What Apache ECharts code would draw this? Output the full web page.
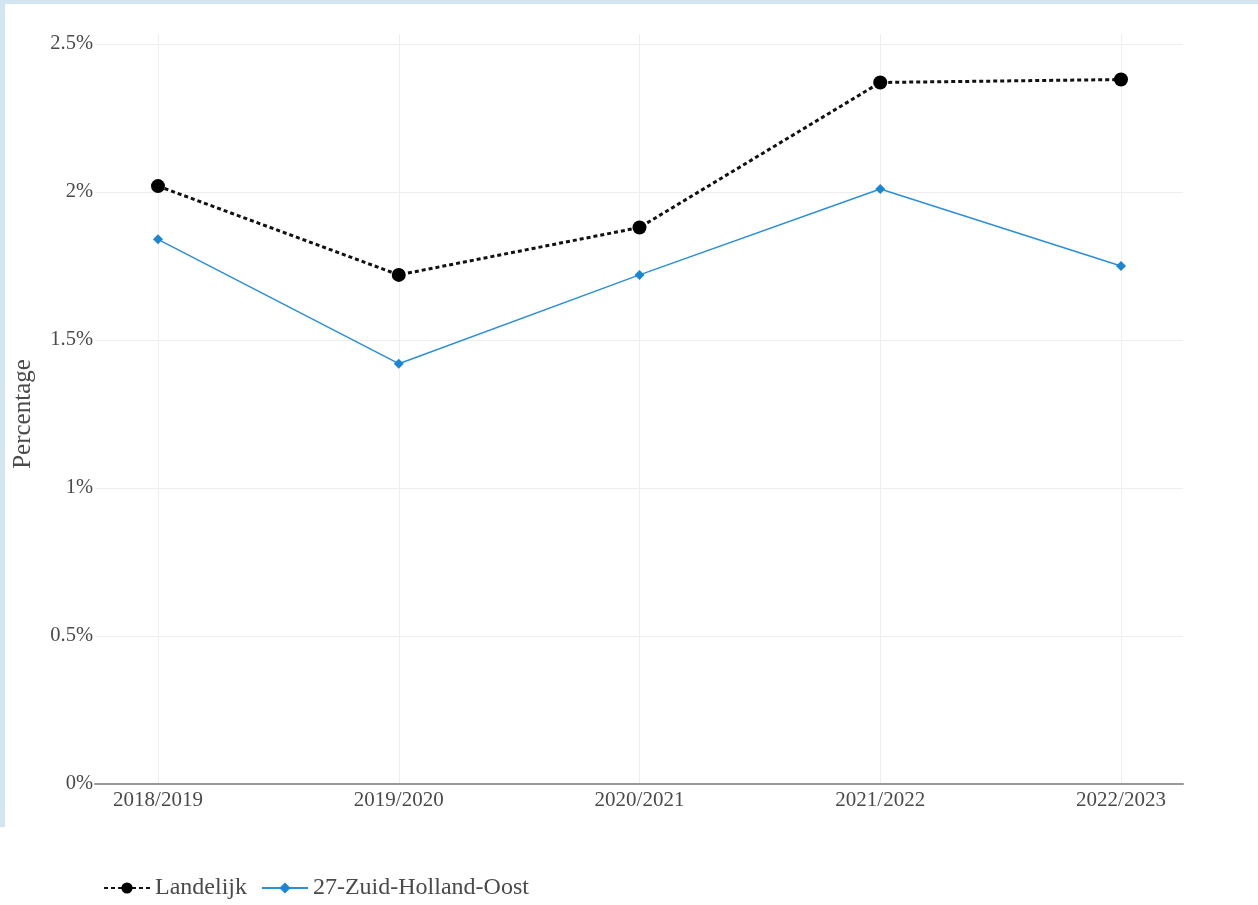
<!DOCTYPE html>
<html>
<head>
<meta charset="utf-8">
<script src="https://cdn.jsdelivr.net/npm/echarts@6/dist/echarts.min.js"></script>
<style>
  html, body { margin: 0; padding: 0; background: #fff; }
  .frame-top { position: absolute; left: 0; top: 0; width: 1258px; height: 4px; background: #d4e5f2; }
  .frame-left { position: absolute; left: 0; top: 0; width: 5px; height: 827px; background: #d4e5f2; }
  #chart { position: absolute; left: 0; top: 0; width: 1258px; height: 905px; }
</style>
</head>
<body>
<div class="frame-top"></div>
<div class="frame-left"></div>
<div id="chart"></div>
<script>
// schooljaren
const categories = ['2018/2019', '2019/2020', '2020/2021', '2021/2022', '2022/2023'];
// percentages
const landelijk = [2.02, 1.72, 1.88, 2.37, 2.38];
const zuidHollandOost = [1.84, 1.42, 1.72, 2.01, 1.75];
const yTicks = [0, 0.5, 1, 1.5, 2, 2.5];

const font = '"Liberation Serif", "DejaVu Serif", serif';
const textColor = '#4a4a4a';

const chart = echarts.init(document.getElementById('chart'));
chart.setOption({
  animation: false,
  backgroundColor: 'transparent',
  textStyle: { fontFamily: font },
  legend: {
    left: 98,
    top: 871,
    itemGap: 14,
    itemWidth: 46,
    itemHeight: 14,
    textStyle: { fontFamily: font, fontSize: 24, color: textColor },
    data: ['Landelijk', '27-Zuid-Holland-Oost']
  },
  grid: [
    // data grid (category positions)
    { left: 158, right: 137, top: 34, bottom: 121 },
    // outer grid: axis line + horizontal gridlines
    { left: 95, right: 75, top: 44, bottom: 121 }
  ],
  xAxis: [{
    type: 'category',
    gridIndex: 0,
    data: categories,
    boundaryGap: false,
    axisLine: { show: false },
    axisTick: { show: false },
    axisLabel: { fontFamily: font, fontSize: 21, color: textColor, margin: 6 },
    splitLine: { show: true, lineStyle: { color: '#eeeeee', width: 1 } }
  }, {
    type: 'value',
    gridIndex: 1,
    min: 0,
    max: 1,
    axisLine: { show: true, lineStyle: { color: '#999999', width: 2 } },
    axisTick: { show: false },
    axisLabel: { show: false },
    splitLine: { show: false }
  }],
  yAxis: [{
    type: 'value',
    gridIndex: 0,
    min: 0,
    max: 2.5 * 750 / 740,
    show: false
  }, {
    type: 'value',
    gridIndex: 1,
    min: 0,
    max: 2.5,
    interval: 0.5,
    name: 'Percentage',
    nameLocation: 'middle',
    nameGap: 59,
    nameTextStyle: { fontFamily: font, fontSize: 25, color: textColor },
    axisLine: { show: false },
    axisTick: { show: false },
    axisLabel: {
      fontFamily: font, fontSize: 20.5, color: textColor, margin: 2,
      formatter: v => yTicks.includes(v) ? v + '%' : ''
    },
    splitLine: { show: true, lineStyle: { color: '#eeeeee', width: 1 } }
  }],
  series: [{
    name: 'Landelijk',
    type: 'line',
    xAxisIndex: 0,
    yAxisIndex: 0,
    data: landelijk,
    symbol: 'circle',
    symbolSize: 14,
    itemStyle: { color: '#000000' },
    lineStyle: { color: '#111111', width: 3, type: [4, 3] },
    z: 3
  }, {
    name: '27-Zuid-Holland-Oost',
    type: 'line',
    xAxisIndex: 0,
    yAxisIndex: 0,
    data: zuidHollandOost,
    symbol: 'diamond',
    symbolSize: 10,
    itemStyle: { color: '#1a86d4' },
    lineStyle: { color: '#2b8fd8', width: 1.5 },
    z: 2
  }]
});
</script>
</body>
</html>
